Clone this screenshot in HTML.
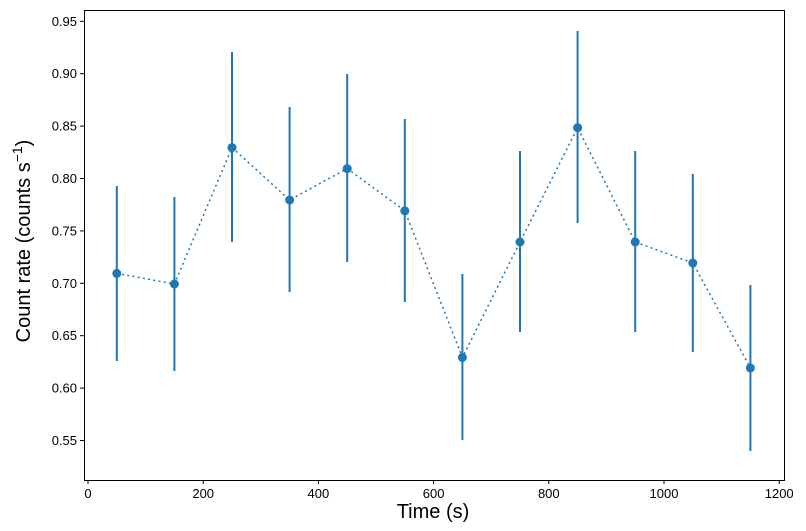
<!DOCTYPE html>
<html><head><meta charset="utf-8"><style>body{margin:0;background:#fff}svg{display:block;font-family:"Liberation Sans","DejaVu Sans",sans-serif}</style></head>
<body>
<svg width="806" height="531" viewBox="0 0 806 531" xmlns="http://www.w3.org/2000/svg">
<rect width="806" height="531" fill="#fff"/>
<g stroke="#1f77b4" stroke-width="2">
<line x1="116.8" y1="186" x2="116.8" y2="361"/>
<line x1="174.4" y1="197" x2="174.4" y2="371"/>
<line x1="232" y1="52" x2="232" y2="242"/>
<line x1="289.6" y1="107" x2="289.6" y2="292"/>
<line x1="347.2" y1="74" x2="347.2" y2="262"/>
<line x1="404.8" y1="119" x2="404.8" y2="302"/>
<line x1="462.4" y1="274" x2="462.4" y2="440"/>
<line x1="520" y1="151" x2="520" y2="332"/>
<line x1="577.6" y1="31" x2="577.6" y2="223"/>
<line x1="635.2" y1="151" x2="635.2" y2="332"/>
<line x1="692.8" y1="174" x2="692.8" y2="352"/>
<line x1="750.4" y1="285" x2="750.4" y2="451"/>
</g>
<polyline fill="none" stroke="#1f77b4" stroke-width="1.5" stroke-dasharray="2,3.3" points="116.8,273.4 174.4,284 232,147.6 289.6,200 347.2,168.6 404.8,210.8 462.4,357.5 520,242 577.6,127.7 635.2,242 692.8,263 750.4,368"/>
<g fill="#1f77b4">
<circle cx="116.8" cy="273.4" r="4.5"/><circle cx="174.4" cy="284" r="4.5"/><circle cx="232" cy="147.6" r="4.5"/><circle cx="289.6" cy="200" r="4.5"/><circle cx="347.2" cy="168.6" r="4.5"/><circle cx="404.8" cy="210.8" r="4.5"/><circle cx="462.4" cy="357.5" r="4.5"/><circle cx="520" cy="242" r="4.5"/><circle cx="577.6" cy="127.7" r="4.5"/><circle cx="635.2" cy="242" r="4.5"/><circle cx="692.8" cy="263" r="4.5"/><circle cx="750.4" cy="368" r="4.5"/>
</g>
<rect x="84.5" y="10.5" width="700" height="470" fill="none" stroke="#000" stroke-width="1"/>
<g stroke="#000" stroke-width="1">
<line x1="88" y1="480" x2="88" y2="484"/><line x1="203.2" y1="480" x2="203.2" y2="484"/><line x1="318.4" y1="480" x2="318.4" y2="484"/><line x1="433.6" y1="480" x2="433.6" y2="484"/><line x1="548.8" y1="480" x2="548.8" y2="484"/><line x1="664" y1="480" x2="664" y2="484"/><line x1="779.2" y1="480" x2="779.2" y2="484"/>
<line x1="80" y1="440.5" x2="84" y2="440.5"/><line x1="80" y1="388.1" x2="84" y2="388.1"/><line x1="80" y1="335.7" x2="84" y2="335.7"/><line x1="80" y1="283.3" x2="84" y2="283.3"/><line x1="80" y1="230.9" x2="84" y2="230.9"/><line x1="80" y1="178.5" x2="84" y2="178.5"/><line x1="80" y1="126.1" x2="84" y2="126.1"/><line x1="80" y1="73.7" x2="84" y2="73.7"/><line x1="80" y1="21.3" x2="84" y2="21.3"/>
</g>
<g font-size="13" fill="#000" text-anchor="middle">
<text x="88" y="498">0</text><text x="203.2" y="498">200</text><text x="318.4" y="498">400</text><text x="433.6" y="498">600</text><text x="548.8" y="498">800</text><text x="664" y="498">1000</text><text x="779.2" y="498">1200</text>
</g>
<g font-size="13" fill="#000" text-anchor="end">
<text x="77" y="445">0.55</text><text x="77" y="392.6">0.60</text><text x="77" y="340.2">0.65</text><text x="77" y="287.8">0.70</text><text x="77" y="235.4">0.75</text><text x="77" y="183">0.80</text><text x="77" y="130.6">0.85</text><text x="77" y="78.2">0.90</text><text x="77" y="25.8">0.95</text>
</g>
<text x="433" y="518" font-size="20" text-anchor="middle">Time (s)</text>
<text transform="translate(30,241) rotate(-90)" font-size="20" text-anchor="middle">Count rate (counts s<tspan dy="-8" font-size="14">−1</tspan><tspan dy="8">)</tspan></text>
</svg>
</body></html>
